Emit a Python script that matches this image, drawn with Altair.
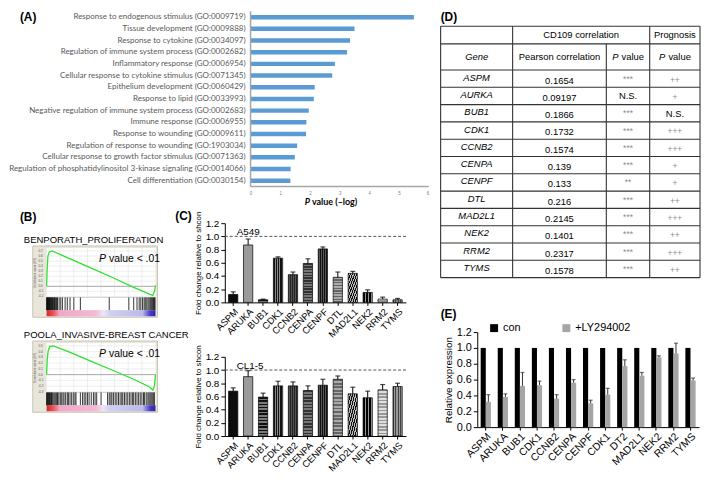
import altair as alt
import pandas as pd

FONT = "Liberation Sans"

# ---------------- Panel A data ----------------
go_terms = [
    "Response to endogenous stimulus (GO:0009719)",
    "Tissue development (GO:0009888)",
    "Response to cytokine (GO:0034097)",
    "Regulation of immune system process (GO:0002682)",
    "Inflammatory response (GO:0006954)",
    "Cellular response to cytokine stimulus (GO:0071345)",
    "Epithelium development (GO:0060429)",
    "Response to lipid (GO:0033993)",
    "Negative regulation of immune system process (GO:0002683)",
    "Immune response (GO:0006955)",
    "Response to wounding (GO:0009611)",
    "Regulation of response to wounding (GO:1903034)",
    "Cellular response to growth factor stimulus (GO:0071363)",
    "Regulation of phosphatidylinositol 3-kinase signaling (GO:0014066)",
    "Cell differentiation (GO:0030154)",
]
go_logp = [5.5, 3.5, 3.35, 3.25, 2.84, 2.75, 2.16, 2.13, 1.96, 1.88, 1.87, 1.57, 1.49, 1.35, 1.34]
go_ticks = [0, 1, 2, 3, 4, 5, 6]

# ---------------- Panel B data ----------------
gsea1_title = "BENPORATH_PROLIFERATION"
gsea1_rank = [0.0, 0.004, 0.012, 0.025, 0.05, 0.2, 0.4, 0.6, 0.8, 0.95, 0.975, 0.99, 1.0]
gsea1_es = [0.0, 0.3, 0.6, 0.68, 0.7, 0.56, 0.37, 0.18, -0.02, -0.16, -0.18, -0.1, 0.02]
gsea1_hits = [0.0, 0.004, 0.008, 0.012, 0.016, 0.02, 0.024, 0.028, 0.033, 0.038, 0.043,
              0.048, 0.054, 0.06, 0.066, 0.072, 0.078, 0.085, 0.092, 0.1, 0.115, 0.13,
              0.145, 0.17, 0.19, 0.215, 0.25, 0.31, 0.575, 0.755, 0.8, 0.83, 0.85, 0.865,
              0.88, 0.895, 0.905, 0.915, 0.93, 0.94, 0.95, 0.958, 0.966, 0.974, 0.982,
              0.99, 0.996]
gsea1_ticks = [0.7, 0.6, 0.5, 0.4, 0.3, 0.2, 0.1, 0.0, -0.1, -0.2]

gsea2_title = "POOLA_INVASIVE-BREAST CANCER"
gsea2_rank = [0.0, 0.005, 0.015, 0.03, 0.06, 0.2, 0.4, 0.6, 0.8, 0.95, 0.975, 0.99, 1.0]
gsea2_es = [0.0, 0.25, 0.42, 0.49, 0.5, 0.4, 0.24, 0.08, -0.08, -0.22, -0.27, -0.2, 0.0]
gsea2_hits = [0.0, 0.005, 0.01, 0.015, 0.02, 0.026, 0.032, 0.038, 0.045, 0.052, 0.06,
              0.07, 0.08, 0.092, 0.1, 0.112, 0.125, 0.135, 0.15, 0.16, 0.175, 0.19, 0.2,
              0.215, 0.23, 0.245, 0.26, 0.27, 0.31, 0.33, 0.345, 0.36, 0.375, 0.39, 0.41,
              0.43, 0.445, 0.46, 0.5, 0.56, 0.575, 0.59, 0.6, 0.615, 0.63, 0.645, 0.66,
              0.675, 0.69, 0.7, 0.715, 0.73, 0.745, 0.76, 0.775, 0.79, 0.8, 0.815, 0.83,
              0.845, 0.86, 0.875, 0.89, 0.9, 0.915, 0.93, 0.94, 0.95, 0.96, 0.97, 0.98, 0.99]
gsea2_ticks = [0.5, 0.4, 0.3, 0.2, 0.1, 0.0, -0.1, -0.2, -0.3]
gsea_grid = [0.125, 0.25, 0.375, 0.5, 0.625, 0.75, 0.875]

# ---------------- Panel C data ----------------
genes_c = ["ASPM", "ARUKA", "BUB1", "CDK1", "CCNB2", "CENPA", "CENPF", "DTL",
           "MAD2L1", "NEK2", "RRM2", "TYMS"]
a549_fc = [0.12, 0.87, 0.04, 0.67, 0.42, 0.59, 0.81, 0.38, 0.44, 0.15, 0.05, 0.04]
a549_err = [0.04, 0.09, 0.01, 0.02, 0.04, 0.07, 0.03, 0.08, 0.03, 0.04, 0.03, 0.02]
cl15_fc = [0.68, 0.90, 0.59, 0.76, 0.76, 0.69, 0.77, 0.86, 0.64, 0.58, 0.70, 0.75]
cl15_err = [0.05, 0.09, 0.06, 0.07, 0.06, 0.07, 0.09, 0.05, 0.10, 0.10, 0.08, 0.05]
fc_ticks = [0.0, 0.2, 0.4, 0.6, 0.8, 1.0, 1.2]

# ---------------- Panel D data ----------------
table_genes = ["ASPM", "AURKA", "BUB1", "CDK1", "CCNB2", "CENPA", "CENPF", "DTL",
               "MAD2L1", "NEK2", "RRM2", "TYMS"]
pearson_r = ["0.1654", "0.09197", "0.1866", "0.1732", "0.1574", "0.139", "0.133",
             "0.216", "0.2145", "0.1401", "0.2317", "0.1578"]
corr_p = ["***", "N.S.", "***", "***", "***", "***", "**", "***", "***", "***", "***", "***"]
prog_p = ["++", "+", "N.S.", "+++", "+++", "+", "+", "++", "+++", "++", "+++", "++"]

# ---------------- Panel E data ----------------
genes_e = ["ASPM", "ARUKA", "BUB1", "CDK1", "CCNB2", "CENPA", "CENPF", "CDK1", "DT2",
           "MAD2L1", "NEK2", "RRM2", "TYMS"]
groups_e = ["con", "+LY294002"]
con_e = [1.0, 1.0, 1.0, 1.0, 1.0, 1.0, 1.0, 1.0, 1.0, 1.0, 1.0, 1.0, 1.0]
ly_e = [0.32, 0.38, 0.52, 0.53, 0.36, 0.56, 0.30, 0.41, 0.77, 0.65, 0.88, 0.93, 0.59]
ly_err = [0.09, 0.04, 0.17, 0.05, 0.05, 0.04, 0.04, 0.08, 0.08, 0.04, 0.02, 0.13, 0.03]
rel_ticks = [0.0, 0.2, 0.4, 0.6, 0.8, 1.0, 1.2]
colors_e = ["#000000", "#a5a5a5"]


def label(text, x, y, size=12, **kw):
    return alt.Chart(pd.DataFrame({"t": [text]})).mark_text(
        x=x, y=y, align=kw.pop("align", "left"), baseline=kw.pop("baseline", "middle"),
        fontSize=size, font=kw.pop("font", FONT), fontWeight=kw.pop("fontWeight", "bold"),
        color=kw.pop("color", "black"), **kw
    ).encode(text="t:N")


def vcat(*charts, spacing=0):
    return alt.concat(*charts, columns=1, spacing=spacing, align="none")


def hcat(*charts, spacing=0):
    return alt.concat(*charts, columns=len(charts), spacing=spacing, align="none")


# ======================= Panel A =======================
WA_BAR, LBL, HA = 180, 233, 177
WA = LBL + WA_BAR
ppu = WA_BAR / go_ticks[-1]
xsA = alt.Scale(domain=[-LBL / ppu, go_ticks[-1]], nice=False, zero=False)
dfA = pd.DataFrame({"term": go_terms, "logp": go_logp})
yA = alt.Y("term:N", sort=go_terms, axis=None)
barsA = alt.Chart(dfA).mark_bar(color="#5b9bd5", size=4.5).encode(
    x=alt.X("logp:Q", scale=xsA,
            axis=alt.Axis(values=go_ticks, format="d", labelFontSize=4.5, labelColor="#7f7f7f",
                          domain=False, ticks=False, grid=False, title=None, labelPadding=4)),
    x2=alt.X2(datum=0),
    y=yA,
)
termsA = alt.Chart(dfA).mark_text(align="right", baseline="middle", font="Lato", fontSize=8.1,
                                  color="#595959", dx=-5).encode(
    x=alt.X(datum=0, type="quantitative", scale=xsA), y=yA, text="term:N")
axisY = alt.Chart(pd.DataFrame({"v": [0]})).mark_rule(color="#a6a6a6", strokeWidth=1.5).encode(
    x=alt.X("v:Q", scale=xsA))
axisX = alt.Chart(pd.DataFrame({"a": [0], "b": [go_ticks[-1]]})).mark_rule(
    color="#a6a6a6", strokeWidth=1.5).encode(
    x=alt.X("a:Q", scale=xsA), x2="b:Q", y=alt.value(HA))
A = alt.layer(
    barsA, termsA, axisY, axisX,
    label("(A)", 0, 6),
    label("P", LBL + 60, HA + 16, size=9, font="Lato", fontStyle="italic", align="right"),
    label("value (–log)", LBL + 62, HA + 16, size=9, font="Lato"),
).properties(width=WA, height=HA)


# ======================= Panel B =======================
def gsea_panel(title, rank, es, hits, ticks, es_top, es_bot, top_px, tag=False):
    LM, BOXW, W = 13, 126, 166
    R = W - LM - BOXW
    k = (es_top - es_bot) / 50.0
    bc_bot = es_bot - 13 * k
    gr_bot = es_bot - 19 * k
    H = top_px + 72
    xs = alt.Scale(domain=[-(LM + 14) / 110, 1 + (2 + R) / 110], nice=False, zero=False)
    ys = alt.Scale(domain=[es_bot - 20 * k, es_top + (2 + top_px) * k], nice=False, zero=False)

    def enc(x, y, x2=None, y2=None):
        e = {"x": alt.X(x, type="quantitative", scale=xs, axis=None),
             "y": alt.Y(y, type="quantitative", scale=ys, axis=None)}
        if x2:
            e["x2"] = alt.X2(x2)
        if y2:
            e["y2"] = alt.Y2(y2)
        return e

    frame = alt.Chart(pd.DataFrame({"x0": [-14 / 110], "x1": [1 + 2 / 110],
                                    "y0": [es_bot - 20 * k], "y1": [es_top + 2 * k]})).mark_rect(
        color="#e8e5da", stroke="#c8c4b4", strokeWidth=1).encode(**enc("x0", "y0", "x1", "y1"))
    white = alt.Chart(pd.DataFrame({"x0": [0, 0], "x1": [1, 1], "y0": [es_bot, bc_bot],
                                    "y1": [es_top, es_bot]})).mark_rect(color="white").encode(
        **enc("x0", "y0", "x1", "y1"))
    hgrid = alt.Chart(pd.DataFrame({"y": ticks, "x0": 0, "x1": 1})).mark_rule(
        color="#e3e3e3", strokeWidth=0.6).encode(**enc("x0", "y", x2="x1"))
    vgrid = alt.Chart(pd.DataFrame({"x": gsea_grid, "y0": es_bot, "y1": es_top})).mark_rule(
        color="#e3e3e3", strokeWidth=0.6).encode(**enc("x", "y0", y2="y1"))
    zero = alt.Chart(pd.DataFrame({"x0": [0], "x1": [1], "y": [0.0]})).mark_rule(
        color="#9a9a9a", strokeWidth=0.8).encode(**enc("x0", "y", x2="x1"))
    sep = alt.Chart(pd.DataFrame({"x0": [0], "x1": [1], "y": [es_bot]})).mark_rule(
        color="#bbbbbb", strokeWidth=0.6).encode(**enc("x0", "y", x2="x1"))
    curve = alt.Chart(pd.DataFrame({"rank": rank, "es": es})).mark_line(
        color="#2fe02f", strokeWidth=1.3).encode(**enc("rank", "es"))
    hitm = alt.Chart(pd.DataFrame({"hit": hits, "y0": bc_bot, "y1": es_bot})).mark_rule(
        color="black", strokeWidth=0.8).encode(**enc("hit", "y0", y2="y1"))
    stops = [("#d62728", 0.0), ("#e8505a", 0.06), ("#f2a6c8", 0.12), ("#f5b8d6", 0.45),
             ("#eee6f4", 0.52), ("#cfd0f2", 0.58), ("#babaee", 0.88), ("#4a3cc8", 0.95),
             ("#3020b0", 1.0)]
    grad = alt.Chart(pd.DataFrame({"x0": [0], "x1": [1], "y0": [gr_bot], "y1": [bc_bot]})).mark_rect(
        color=alt.LinearGradient(gradient="linear", x1=0, x2=1, y1=0, y2=0,
                                 stops=[alt.GradientStop(color=c, offset=o) for c, o in stops])
    ).encode(**enc("x0", "y0", "x1", "y1"))
    tl = alt.Chart(pd.DataFrame({"y": ticks, "x": -6 / 110,
                                 "t": [f"{v:.1f}" for v in ticks]})).mark_text(
        fontSize=3.2, color="#555555", font=FONT).encode(text="t:N", **enc("x", "y"))
    ytitle = alt.Chart(pd.DataFrame({"t": ["Enrichment score (ES)"], "x": [-12 / 110],
                                     "y": [(es_top + es_bot) / 2]})).mark_text(
        fontSize=3, angle=270, color="#555555", font=FONT).encode(text="t:N", **enc("x", "y"))
    layers = [frame, white, hgrid, vgrid, zero, sep, curve, hitm, grad, tl, ytitle,
              label("P", LM + 67, top_px + 13, size=10.5, fontStyle="italic", fontWeight="normal"),
              label("value < .01", LM + 77, top_px + 13, size=10.5, fontWeight="normal"),
              label(title, LM - 9, top_px - 6, size=9.6, fontWeight="normal")]
    if tag:
        layers.append(label("(B)", 0, -6))
    return alt.layer(*layers).properties(width=W, height=H)


B1 = gsea_panel(gsea1_title, gsea1_rank, gsea1_es, gsea1_hits, gsea1_ticks, 0.76, -0.22, 23, tag=True)
B2 = gsea_panel(gsea2_title, gsea2_rank, gsea2_es, gsea2_hits, gsea2_ticks, 0.55, -0.31, 13)
Bcol = vcat(B1, B2, spacing=10)


# ======================= Panel C =======================
def stripes(c1, c2, n, direction):
    st = []
    for i in range(n):
        a, m, b = i / n, (i + 0.5) / n, (i + 1) / n
        st += [alt.GradientStop(color=c1, offset=a), alt.GradientStop(color=c1, offset=m),
               alt.GradientStop(color=c2, offset=m), alt.GradientStop(color=c2, offset=b)]
    if direction == "v":
        return alt.LinearGradient(gradient="linear", x1=0, x2=1, y1=0, y2=0, stops=st)
    if direction == "h":
        return alt.LinearGradient(gradient="linear", x1=0, x2=0, y1=0, y2=1, stops=st)
    return alt.LinearGradient(gradient="linear", x1=0, x2=1, y1=1, y2=0, stops=st)


fill_c = {
    "ASPM": "#0d0d0d",
    "ARUKA": "#9b9b9b",
    "BUB1": stripes("#111111", "#7a7a7a", 12, "h"),
    "CDK1": stripes("#111111", "#8a8a8a", 4, "v"),
    "CCNB2": stripes("#222222", "#555555", 5, "v"),
    "CENPA": stripes("#333333", "#777777", 14, "h"),
    "CENPF": stripes("#111111", "#555555", 5, "v"),
    "DTL": stripes("#666666", "#aaaaaa", 16, "h"),
    "MAD2L1": stripes("#111111", "#bbbbbb", 10, "d"),
    "NEK2": stripes("#000000", "#999999", 3, "v"),
    "RRM2": stripes("#999999", "#dddddd", 14, "h"),
    "TYMS": stripes("#444444", "#999999", 4, "v"),
}


def fc_panel(cell, vals, errs, tag=False):
    WC, HC = 183, 80
    df = pd.DataFrame({"gene": genes_c, "fc": vals, "err": errs})
    df["top"] = df["fc"] + df["err"]
    xC = alt.X("gene:N", sort=genes_c, scale=alt.Scale(paddingInner=0.38, paddingOuter=0.25),
               axis=alt.Axis(labelAngle=-45, labelFontSize=9.5, domainColor="black",
                             tickColor="black", tickSize=3, title=None, labelPadding=1))
    yaxis = alt.Axis(values=fc_ticks, format=".1f", labelFontSize=10, tickSize=4,
                     domainColor="black", tickColor="black", grid=False,
                     title="Fold change relative to shcon", titleFontSize=8,
                     titleFontWeight="normal", titlePadding=3, labelPadding=2)
    ysc = alt.Scale(domain=[0, 1.2], nice=False)
    layers = []
    for g in genes_c:
        layers.append(alt.Chart(df).transform_filter(alt.datum.gene == g).mark_bar(
            color=fill_c[g], stroke="black", strokeWidth=0.7).encode(
            x=xC, y=alt.Y("fc:Q", scale=ysc, axis=yaxis)))
    layers.append(alt.Chart(df).mark_rule(color="black", strokeWidth=1).encode(
        x=xC, y=alt.Y("fc:Q", scale=ysc, axis=yaxis), y2="top:Q"))
    layers.append(alt.Chart(df).mark_tick(color="black", thickness=1.2, size=5).encode(
        x=xC, y=alt.Y("top:Q", scale=ysc, axis=yaxis)))
    layers.append(alt.Chart(pd.DataFrame({"ref": [1.0]})).mark_rule(
        color="#555555", strokeDash=[3, 2], strokeWidth=1).encode(
        y=alt.Y("ref:Q", scale=ysc, axis=yaxis)))
    layers.append(label(cell, 12, 9, size=10, fontWeight="normal"))
    if tag:
        layers.append(label("(C)", -50, -7))
    return alt.layer(*layers).properties(width=WC, height=HC)


C1 = fc_panel("A549", a549_fc, a549_err, tag=True)
C2 = fc_panel("CL1-5", cl15_fc, cl15_err)
Ccol = vcat(C1, C2, spacing=5)

# ======================= Panel D (table) =======================
TW, TH, DX, DY = 262, 254, 37, 15
col_w = [73, 95, 44, 51]
row_h = [18.3, 27.0] + [17.9] * len(table_genes)
x_edges = [sum(col_w[:i]) for i in range(len(col_w) + 1)]
y_edges = [sum(row_h[:i]) for i in range(len(row_h) + 1)]
x_mid = [(x_edges[i] + x_edges[i + 1]) / 2 for i in range(len(col_w))]
y_mid = [(y_edges[i] + y_edges[i + 1]) / 2 for i in range(len(row_h))]
ux = x_edges[-1] / TW
uy = y_edges[-1] / TH
xsD = alt.Scale(domain=[DX * ux, x_edges[-1]], nice=False, zero=False)
ysD = alt.Scale(domain=[-DY * uy, y_edges[-1]], nice=False, zero=False, reverse=True)


def encD(x, y, x2=None, y2=None, **extra):
    e = {"x": alt.X(x, type="quantitative", scale=xsD, axis=None),
         "y": alt.Y(y, type="quantitative", scale=ysD, axis=None)}
    if x2:
        e["x2"] = alt.X2(x2)
    if y2:
        e["y2"] = alt.Y2(y2)
    e.update(extra)
    return e


hl = pd.DataFrame({"y": y_edges, "x0": 0, "x1": x_edges[-1]})
vl = pd.DataFrame({"x": x_edges,
                   "y0": [0, 0, y_edges[1], 0, 0],
                   "y1": y_edges[-1]})
rulesH = alt.Chart(hl).mark_rule(color="#333333", strokeWidth=1.1).encode(**encD("x0", "y", x2="x1"))
rulesV = alt.Chart(vl).mark_rule(color="#333333", strokeWidth=1.1).encode(**encD("x", "y0", y2="y1"))

hdr = pd.DataFrame({"x": [(x_edges[1] + x_edges[3]) / 2, x_mid[3], x_mid[1]],
                    "y": [y_mid[0], y_mid[0], y_mid[1]],
                    "t": ["CD109 correlation", "Prognosis", "Pearson correlation"]})
hdrT = alt.Chart(hdr).mark_text(fontSize=9.5, font=FONT).encode(text="t:N", **encD("x", "y"))
geneHdr = alt.Chart(pd.DataFrame({"x": [x_mid[0]], "y": [y_mid[1]], "t": ["Gene"]})).mark_text(
    fontSize=9.5, font=FONT, fontStyle="italic").encode(text="t:N", **encD("x", "y"))
pv = pd.DataFrame({"x": [x_mid[2], x_mid[3]], "y": [y_mid[1], y_mid[1]], "t": ["P", "P"],
                   "t2": ["value", "value"]})
pvP = alt.Chart(pv).mark_text(fontSize=9.5, font=FONT, fontStyle="italic", align="left",
                              dx=-16).encode(text="t:N", **encD("x", "y"))
pvV = alt.Chart(pv).mark_text(fontSize=9.5, font=FONT, align="left", dx=-6.5).encode(
    text="t2:N", **encD("x", "y"))

rows = pd.DataFrame({"gene": table_genes, "r": pearson_r, "cp": corr_p, "pp": prog_p,
                     "y": y_mid[2:]})
rows["xg"] = x_mid[0]
rows["xr"] = x_mid[1]
rows["xc"] = x_mid[2]
rows["xp"] = x_mid[3]
geneT = alt.Chart(rows).mark_text(fontSize=9.5, font=FONT, fontStyle="italic", dy=-1).encode(
    text="gene:N", **encD("xg", "y"))
rT = alt.Chart(rows).mark_text(fontSize=9.5, font=FONT, dy=2).encode(text="r:N", **encD("xr", "y"))
cpT = alt.Chart(rows).mark_text(font=FONT, dy=0).encode(
    text="cp:N",
    color=alt.condition(alt.datum.cp == "N.S.", alt.value("black"), alt.value("#8c8c8c")),
    size=alt.condition(alt.datum.cp == "N.S.", alt.value(9.5), alt.value(8.5)),
    **encD("xc", "y"))
ppT = alt.Chart(rows).mark_text(font=FONT, dy=1).encode(
    text="pp:N",
    color=alt.condition(alt.datum.pp == "N.S.", alt.value("black"), alt.value("#8c8c8c")),
    size=alt.condition(alt.datum.pp == "N.S.", alt.value(9.5), alt.value(8.5)),
    **encD("xp", "y"))

D = alt.layer(rulesH, rulesV, hdrT, geneHdr, pvP, pvV, geneT, rT, cpT, ppT,
              label("(D)", -DX, 6)).properties(width=TW - DX, height=TH + DY)

# ======================= Panel E =======================
WE, HE = 224, 96
idx_e = list(range(len(genes_e)))
dfE = pd.DataFrame({"idx": idx_e * 2, "grp": [groups_e[0]] * len(idx_e) + [groups_e[1]] * len(idx_e),
                    "val": con_e + ly_e})
dfErr = pd.DataFrame({"idx": idx_e, "grp": groups_e[1], "val": ly_e,
                      "top": [v + e for v, e in zip(ly_e, ly_err)]})
label_expr = "[" + ",".join(f"'{g}'" for g in genes_e) + "][datum.value]"
xE = alt.X("idx:O", scale=alt.Scale(paddingInner=0.4, paddingOuter=0.2),
           axis=alt.Axis(labelExpr=label_expr, labelAngle=-45, labelFontSize=10.5,
                         domainColor="black", tickColor="black", tickSize=3, title=None,
                         labelPadding=1))
offE = alt.XOffset("grp:N", sort=groups_e,
                   scale=alt.Scale(domain=groups_e, paddingInner=0, paddingOuter=0))
yEaxis = alt.Axis(values=rel_ticks, format=".1f", labelFontSize=11, tickSize=4,
                  domainColor="black", tickColor="black", grid=False,
                  title="Relative expression", titleFontSize=10, titleFontWeight="normal",
                  titlePadding=3, labelPadding=2)
ysE = alt.Scale(domain=[0, 1.2], nice=False)
colE = alt.Color("grp:N", sort=groups_e, scale=alt.Scale(domain=groups_e, range=colors_e),
                 legend=None)
barsE = alt.Chart(dfE).mark_bar().encode(x=xE, xOffset=offE,
                                         y=alt.Y("val:Q", scale=ysE, axis=yEaxis), color=colE)
errE = alt.Chart(dfErr).mark_rule(color="#333333", strokeWidth=1).encode(
    x=xE, xOffset=offE, y=alt.Y("val:Q", scale=ysE, axis=yEaxis), y2="top:Q")
capE = alt.Chart(dfErr).mark_tick(color="#333333", thickness=1.2, size=4).encode(
    x=xE, xOffset=offE, y=alt.Y("top:Q", scale=ysE, axis=yEaxis))
legE = [
    alt.Chart(pd.DataFrame({"t": [groups_e[0]]})).mark_square(
        x=17, y=-4, size=64, color=colors_e[0], opacity=1),
    label(groups_e[0], 26, -4, size=11, fontWeight="normal"),
    alt.Chart(pd.DataFrame({"t": [groups_e[1]]})).mark_square(
        x=90, y=-4, size=64, color=colors_e[1], opacity=1),
    label(groups_e[1], 99, -4, size=11, fontWeight="normal"),
]
E = alt.layer(barsE, errE, capE, *legE, label("(E)", -DX, -18)).properties(width=WE, height=HE)

# ======================= Layout =======================
left = vcat(A, hcat(Bcol, Ccol, spacing=-14), spacing=3)
right = vcat(D, E, spacing=30)
chart = hcat(left, right, spacing=10).properties(padding=0).configure_view(
    stroke=None
).configure_axis(labelFont=FONT, titleFont=FONT, labelColor="black", titleColor="black"
).configure_text(font=FONT).configure_title(font=FONT)

chart.save("out.html", embed_options={"renderer": "svg", "actions": False})
